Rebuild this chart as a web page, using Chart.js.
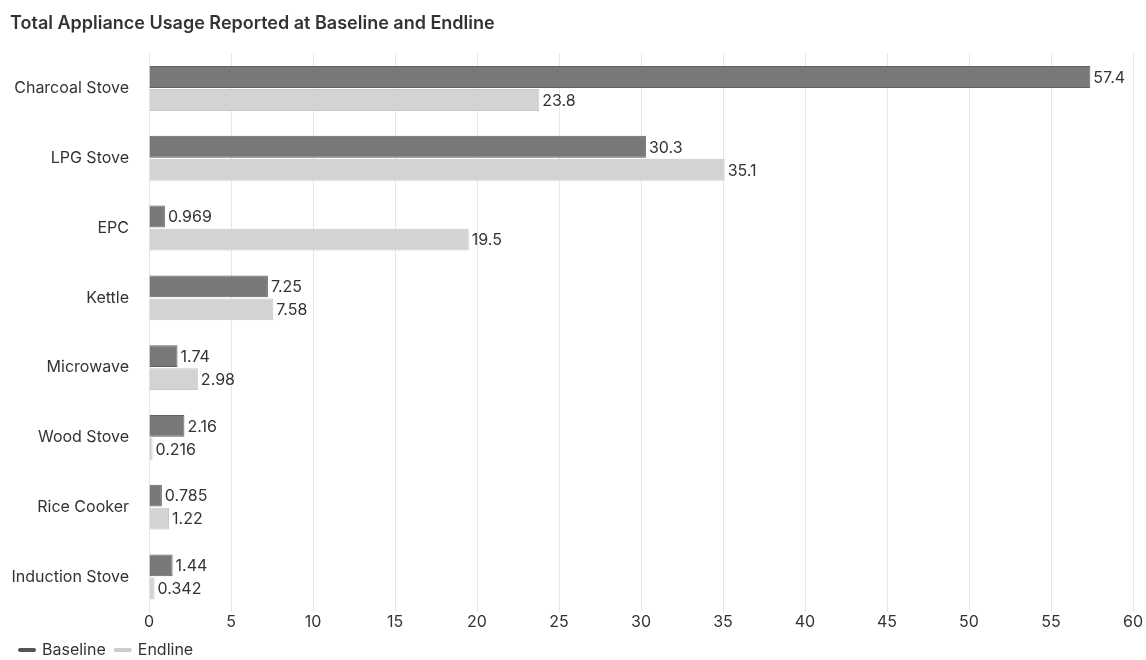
<!DOCTYPE html>
<html>
<head>
<meta charset="utf-8">
<script src="https://cdn.jsdelivr.net/npm/chart.js@4/dist/chart.umd.min.js"></script>
<style>
  html, body { margin: 0; padding: 0; background: #fff; }
  #wrap { width: 1146px; height: 660px; position: relative; }
</style>
</head>
<body>
<div id="wrap"><canvas id="c"></canvas></div>
<script>
const categories = ["Charcoal Stove", "LPG Stove", "EPC", "Kettle", "Microwave", "Wood Stove", "Rice Cooker", "Induction Stove"];
const baseline = [57.4, 30.3, 0.969, 7.25, 1.74, 2.16, 0.785, 1.44];
const endline = [23.8, 35.1, 19.5, 7.58, 2.98, 0.216, 1.22, 0.342];
const xTicks = [0, 5, 10, 15, 20, 25, 30, 35, 40, 45, 50, 55, 60];

const FONT = "Inter, 'Noto Sans', sans-serif";
const legendColors = ['#555555', '#cccccc'];

const valueLabels = {
  id: 'valueLabels',
  afterDatasetsDraw(chart) {
    const ctx = chart.ctx;
    ctx.save();
    ctx.font = "16px " + FONT;
    ctx.fillStyle = "#333";
    ctx.textAlign = "left";
    ctx.textBaseline = "middle";
    chart.data.datasets.forEach((ds, di) => {
      const meta = chart.getDatasetMeta(di);
      meta.data.forEach((bar, i) => {
        ctx.fillText(String(ds.data[i]), bar.x + 3, bar.y + 1);
      });
    });
    ctx.restore();
  }
};

new Chart(document.getElementById('c'), {
  type: 'bar',
  data: {
    labels: categories,
    datasets: [
      { label: 'Baseline', data: baseline, backgroundColor: '#787878', borderColor: '#626262', borderWidth: 1,
        categoryPercentage: 0.66, barPercentage: 0.95 },
      { label: 'Endline', data: endline, backgroundColor: '#d3d3d3', borderColor: '#c8c8c8', borderWidth: 1,
        categoryPercentage: 0.66, barPercentage: 0.95 }
    ]
  },
  options: {
    indexAxis: 'y',
    responsive: true,
    maintainAspectRatio: false,
    animation: false,
    layout: { padding: { left: 10, right: 4, top: 0, bottom: -8 } },
    plugins: {
      title: {
        display: true, text: 'Total Appliance Usage Reported at Baseline and Endline',
        align: 'start', color: '#333',
        font: { family: FONT, size: 18, weight: '600' },
        padding: { top: 13, bottom: 19 }
      },
      legend: {
        position: 'bottom', align: 'start',
        labels: {
          usePointStyle: true, pointStyle: 'line', boxWidth: 19, boxHeight: 4, pointStyleWidth: 14,
          color: '#333', font: { family: FONT, size: 16 }, padding: 10,
          generateLabels(chart) {
            return chart.data.datasets.map((ds, i) => ({
              text: ds.label, fillStyle: legendColors[i], strokeStyle: legendColors[i],
              lineWidth: 4, lineCap: 'round', pointStyle: 'line', datasetIndex: i, hidden: false,
              fontColor: '#333'
            }));
          }
        }
      },
      tooltip: { enabled: false }
    },
    scales: {
      x: {
        min: 0, max: 60,
        afterBuildTicks(axis) { axis.ticks = xTicks.map(v => ({ value: v })); },
        afterFit(axis) { axis.paddingRight = 13; axis.paddingLeft = 0; },
        grid: { color: '#e6e6e6', drawTicks: false },
        border: { display: false },
        ticks: { color: '#333', font: { family: FONT, size: 16, lineHeight: 0.01 }, padding: 10 }
      },
      y: {
        afterFit(axis) { axis.width = 139; },
        grid: { display: false, drawTicks: false },
        border: { display: false },
        ticks: { color: '#333', font: { family: FONT, size: 16 }, padding: 20 }
      }
    }
  },
  plugins: [valueLabels]
});
</script>
</body>
</html>
